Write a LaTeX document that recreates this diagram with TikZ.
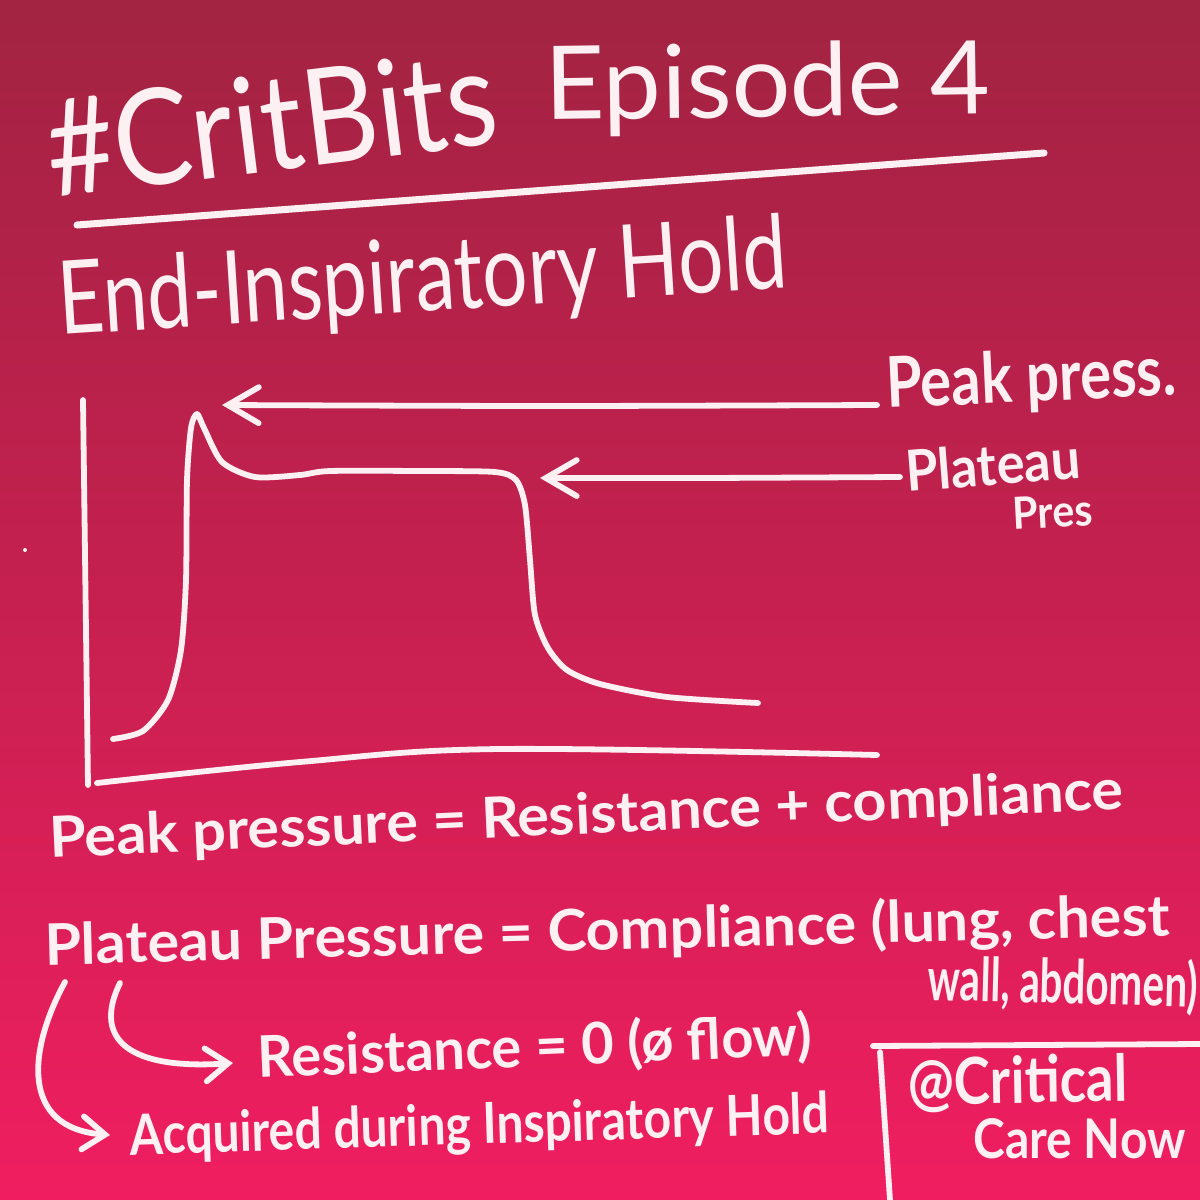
\documentclass[tikz,border=0pt]{standalone}
\usepackage{fontspec}
\setmainfont{Lato}
\usetikzlibrary{arrows.meta}
\definecolor{bgtop}{HTML}{A22342}
\definecolor{bgmid}{HTML}{C62050}
\definecolor{bgbot}{HTML}{F01E60}
\definecolor{chalk}{HTML}{FDF0F3}
\newcommand{\hw}[3]{\resizebox{#1}{#2}{\bfseries #3}}
\newcommand{\hwr}[3]{\resizebox{#1}{#2}{#3}}
\tikzset{
  ink/.style={draw=chalk, line width=3.3pt, line cap=round, line join=round},
  lbl/.style={text=chalk, inner sep=0pt, anchor=base west},
  barbbig/.style={-{Straight Barb[length=0.62cm,width=0.72cm,line cap=round]}},
  barbsmall/.style={-{Straight Barb[length=0.45cm,width=0.66cm,line cap=round]}}
}
\begin{document}
\begin{tikzpicture}[x=0.02cm,y=-0.02cm]
\useasboundingbox (0,0) rectangle (1200,1200);
\shade[top color=bgtop, bottom color=bgbot, middle color=bgmid] (0,0) rectangle (1200,1200);

% title
\node[lbl, rotate=7] (title) at (52,198) {\hwr{9.05cm}{1.95cm}{\#CritBits}};
\node[lbl, rotate=0.8] (title2) at (545,120) {\hwr{8.9cm}{1.5cm}{Episode 4}};
\coordinate (ulA) at (77,225);
\coordinate (ulB) at (1044,153);
\draw[ink, line width=4pt] (ulA) -- (ulB);

\node[lbl, rotate=3.7] (sub) at (60,335) {\hwr{14.6cm}{1.5cm}{End-Inspiratory Hold}};

% graph axes
\coordinate (yTop) at (83,400);
\coordinate (orig) at (88,785);
\coordinate (xL) at (97,783);
\coordinate (xR) at (877,755);
\draw[ink] (yTop) -- (orig);
\draw[ink] plot[smooth, tension=0.6] coordinates {(xL) (300,762) (500,749) (xR)};

% pressure curve
\draw[ink] plot[smooth, tension=0.45] coordinates {
 (113,739) (143,731) (168,700) (181,650) (186,580) (187,480) (191,428) (197,414)
 (204,428) (222,462) (255,477) (300,475) (330,471) (420,471) (495,472) (516,480)
 (525,505) (530,560) (535,615) (548,648) (567,670) (600,684) (667,697) (758,703)};
\coordinate (peakTip) at (222,405);
\coordinate (platTip) at (540,478);

% labels
\node[lbl, rotate=2.6] (peaklbl) at (887,408) {\hw{5.8cm}{1.04cm}{Peak press.}};
\node[lbl, rotate=4.5] (platlbl) at (907,492) {\hw{3.5cm}{0.84cm}{Plateau}};
\node[lbl, rotate=3] (preslbl) at (1013,530) {\hw{1.6cm}{0.64cm}{Pres}};
\coordinate (peakStart) at (877,405);
\coordinate (platStart) at (900,477);
\draw[ink, barbbig] plot[smooth] coordinates {(peakStart) (550,406) (peakTip)};
\draw[ink, barbbig] plot[smooth] coordinates {(platStart) (700,478) (platTip)};

% equations
\node[lbl, rotate=2.6] (eq1) at (50,858) {\hw{21.5cm}{0.84cm}{Peak pressure = Resistance + compliance}};
\node[lbl, rotate=1.5] (eq2) at (45,965) {\hw{22.5cm}{0.9cm}{Plateau Pressure = Compliance (lung, chest}};
\node[lbl, rotate=-1.5] (eq2b) at (927,1000) {\hw{5.4cm}{0.95cm}{wall, abdomen)}};

\node[lbl, rotate=2.4] (res) at (258,1078) {\hw{11.1cm}{0.9cm}{Resistance = 0 (ø flow)}};
\node[lbl, rotate=1.8] (acq) at (130,1155) {\hw{14cm}{0.84cm}{Acquired during Inspiratory Hold}};

\coordinate (aS) at (120,983);
\coordinate (aT) at (233,1063);
\coordinate (bS) at (65,982);
\coordinate (bT) at (110,1135);
\draw[ink, barbsmall] (aS) .. controls (92,1040) and (130,1070) .. (aT);
\draw[ink, barbsmall] (bS) .. controls (28,1050) and (20,1128) .. (bT);

% signature box
\coordinate (bxL) at (873,1046);
\coordinate (bxR) at (1200,1044);
\coordinate (bxT) at (880,1052);
\coordinate (bxB) at (890,1200);
\draw[ink] (bxL) -- (bxR);
\draw[ink] (bxT) -- (bxB);
\node[lbl, rotate=1] (sig1) at (908,1105) {\hw{4.4cm}{0.96cm}{@Critical}};
\node[lbl] (sig2) at (973,1158) {\hw{4.25cm}{0.8cm}{Care Now}};

% stray dot
\fill[chalk] (25,550) circle (2);
\end{tikzpicture}
\end{document}
